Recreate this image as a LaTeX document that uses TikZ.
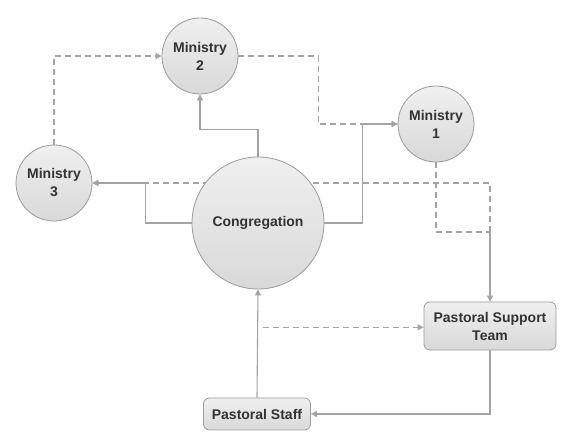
\documentclass[tikz,border=0pt]{standalone}
\usepackage{fontspec}
\setmainfont{Liberation Sans}
\usetikzlibrary{arrows.meta,backgrounds}
\definecolor{linegray}{HTML}{A3A3A3}
\definecolor{edgegray}{HTML}{9A9A9A}
\definecolor{txtgray}{HTML}{333333}
\tikzset{
	ministry/.style={circle, draw=edgegray, line width=0.8pt, top color=gray!12, bottom color=gray!30, minimum size=76pt, inner sep=0pt, align=center, text=txtgray, font=\fontsize{14}{18}\selectfont\bfseries},
	teambox/.style={rectangle, rounded corners=6pt, draw=edgegray, line width=0.8pt, top color=gray!12, bottom color=gray!30, inner sep=0pt, align=center, text=txtgray, font=\fontsize{14}{18}\selectfont\bfseries},
	sline/.style={draw=linegray, line width=1.1pt},
	dline/.style={draw=linegray, line width=1.1pt, dash pattern=on 6pt off 4pt},
}
\begin{document}
\begin{tikzpicture}[x=1pt, y=-1pt, >={Triangle[length=6pt,width=6pt]}]
	\useasboundingbox (0,0) rectangle (566,446);
	\node (m2) [ministry] at (200,56) {Ministry\\2};
	\node (m1) [ministry] at (436,124) {Ministry\\1};
	\node (m3) [ministry] at (54,183) {Ministry\\3};
	\node (cong) [ministry, minimum size=132pt] at (258,223) {Congregation};
	\node (pst) [teambox, minimum width=132pt, minimum height=48pt] at (490,326) {Pastoral Support\\Team};
	\node (staff) [teambox, minimum width=107pt, minimum height=32pt] at (257,414) {Pastoral Staff};
	\coordinate (merge) at (490,232);
	\begin{scope}[on background layer]
		\draw[sline,->] (cong.north) -- ++(0,-27) -| (m2.south);
		\draw[sline,->] (cong.west) -- ++(-46,0) |- (m3.east);
		\draw[sline,->] (cong.east) -- ++(38,0) |- (m1.west);
		\draw[dline,->] (m3.north) |- (m2.west);
		\draw[dline,->] (m2.east) -- ++(80,0) |- (m1.west);
		\draw[dline,->] (merge) |- (m3.east);
		\draw[dline] (m1.south) |- (merge);
		\draw[sline,->] (merge) -- (pst.north);
		\draw[sline,->] (pst.south) |- (staff.east);
		\draw[sline,->] (staff.north) -- coordinate[pos=0.65] (tap) (cong.south);
		\draw[dline,->,shorten <=5pt] (tap) -- (tap -| pst.west);
	\end{scope}
\end{tikzpicture}
\end{document}
